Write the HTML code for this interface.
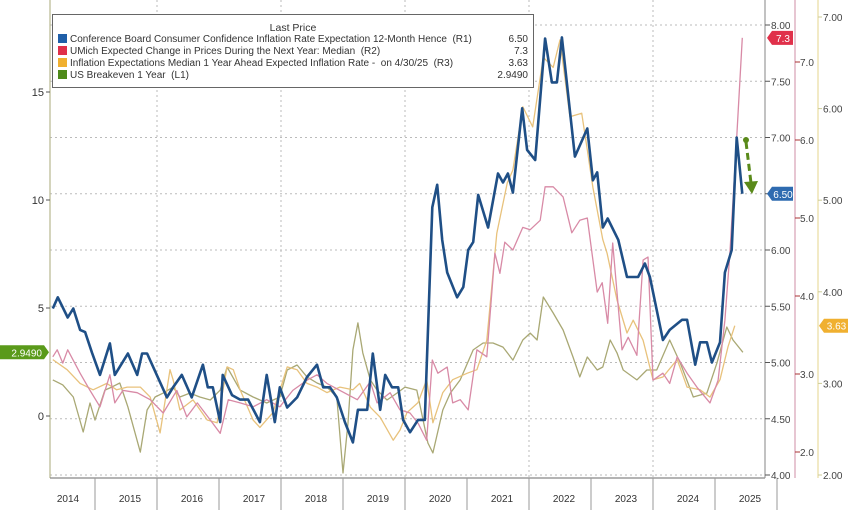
<!DOCTYPE html>
<html><head><meta charset="utf-8"><style>
body{margin:0;background:#fff;}
svg{display:block;font-family:"Liberation Sans",sans-serif;}
</style></head><body>
<svg id="chart" width="848" height="510" viewBox="0 0 848 510" xmlns="http://www.w3.org/2000/svg"></svg>
<script>
const yearLabels=["2014","2015","2016","2017","2018","2019","2020","2021","2022","2023","2024","2025"];
const leftTicks=[0,5,10,15];
const r1Ticks=[4.00,4.50,5.00,5.50,6.00,6.50,7.00,7.50,8.00];
const r2Ticks=[2.0,3.0,4.0,5.0,6.0,7.0];
const r3Ticks=[2.00,3.00,4.00,5.00,6.00,7.00];
const blueDates=[2014.32,2014.40,2014.56,2014.65,2014.76,2014.84,2014.95,2015.08,2015.24,2015.32,2015.53,2015.68,2015.76,2015.84,2016.16,2016.26,2016.40,2016.56,2016.74,2016.82,2016.90,2017.02,2017.06,2017.21,2017.34,2017.47,2017.66,2017.77,2017.90,2017.98,2018.10,2018.26,2018.42,2018.58,2018.68,2018.79,2018.90,2019.03,2019.16,2019.24,2019.39,2019.48,2019.60,2019.68,2019.79,2019.89,2019.97,2020.08,2020.21,2020.32,2020.44,2020.52,2020.60,2020.68,2020.84,2020.94,2021.02,2021.10,2021.18,2021.34,2021.50,2021.58,2021.66,2021.74,2021.89,2021.97,2022.10,2022.26,2022.37,2022.45,2022.53,2022.74,2022.94,2023.03,2023.10,2023.19,2023.27,2023.44,2023.58,2023.76,2023.87,2023.95,2024.16,2024.27,2024.47,2024.55,2024.68,2024.76,2024.87,2024.95,2025.08,2025.16,2025.27,2025.35,2025.44];
const blueVals=[5.48,5.58,5.40,5.48,5.29,5.27,5.09,4.89,5.17,4.89,5.08,4.89,5.08,5.08,4.69,4.78,4.89,4.69,4.98,4.78,4.78,4.47,4.89,4.71,4.67,4.67,4.47,4.89,4.47,4.78,4.60,4.69,4.87,4.98,4.78,4.78,4.69,4.47,4.29,4.58,4.58,5.08,4.58,4.89,4.78,4.78,4.49,4.38,4.49,4.49,6.38,6.58,6.09,5.80,5.58,5.67,6.00,6.07,6.49,6.20,6.68,6.60,6.68,6.51,7.26,6.89,6.80,7.88,7.49,7.49,7.89,6.83,7.08,6.62,6.69,6.20,6.28,6.09,5.76,5.76,5.88,5.76,5.20,5.29,5.38,5.38,4.98,5.18,5.18,5.00,5.18,5.80,6.00,7.00,6.50];
const redDates=[2014.32,2014.39,2014.48,2014.56,2014.76,2014.92,2015.08,2015.24,2015.32,2015.45,2015.68,2015.89,2016.10,2016.32,2016.48,2016.65,2016.86,2017.02,2017.15,2017.34,2017.55,2017.77,2017.98,2018.19,2018.42,2018.58,2018.74,2018.95,2019.23,2019.44,2019.55,2019.76,2019.92,2020.08,2020.21,2020.35,2020.44,2020.53,2020.68,2020.77,2020.89,2021.02,2021.16,2021.32,2021.45,2021.53,2021.61,2021.74,2021.90,2022.02,2022.18,2022.26,2022.39,2022.55,2022.69,2022.82,2022.94,2023.10,2023.18,2023.27,2023.35,2023.50,2023.60,2023.74,2023.84,2023.92,2024.00,2024.16,2024.27,2024.39,2024.55,2024.71,2024.92,2025.05,2025.16,2025.24,2025.35,2025.44];
const redVals=[3.22,3.31,3.14,3.31,3.01,2.79,2.58,2.99,2.63,2.79,2.76,2.67,2.50,2.79,2.45,2.63,2.41,2.24,2.67,2.63,2.58,2.67,2.58,2.79,2.92,2.99,2.88,2.79,2.67,2.90,2.63,2.76,2.54,2.50,2.37,2.15,3.18,3.01,3.09,2.63,2.67,2.54,3.31,3.22,4.55,4.29,4.69,4.59,4.88,4.85,4.97,5.40,5.40,5.27,4.81,4.97,5.00,4.05,4.17,3.65,4.68,3.31,3.47,3.24,4.46,4.50,2.92,3.01,2.88,3.22,3.01,2.83,2.63,2.92,3.69,4.55,6.03,7.31];
const yelDates=[2014.32,2014.55,2014.76,2014.97,2015.19,2015.35,2015.52,2015.73,2015.89,2016.05,2016.21,2016.26,2016.37,2016.58,2016.81,2016.97,2017.13,2017.23,2017.34,2017.55,2017.66,2017.87,2018.10,2018.26,2018.42,2018.58,2018.74,2018.95,2019.16,2019.27,2019.44,2019.60,2019.81,2019.92,2020.03,2020.21,2020.35,2020.45,2020.61,2020.77,2021.00,2021.16,2021.32,2021.48,2021.65,2021.74,2021.90,2022.06,2022.23,2022.39,2022.50,2022.66,2022.85,2022.94,2023.03,2023.19,2023.26,2023.42,2023.58,2023.68,2023.84,2024.00,2024.16,2024.39,2024.55,2024.76,2024.92,2025.08,2025.21,2025.32];
const yelVals=[3.26,3.15,3.00,2.93,3.00,2.93,2.96,2.96,2.85,2.46,3.15,3.04,2.71,2.82,2.60,2.57,3.18,3.15,2.93,2.60,2.52,2.68,3.18,3.15,3.00,2.96,2.90,2.96,2.93,3.00,2.74,2.63,2.38,2.49,2.68,2.79,3.04,2.57,2.90,3.04,3.11,3.15,3.47,4.64,5.19,5.33,6.02,5.80,6.56,6.45,6.75,5.91,5.95,5.55,5.14,4.57,4.42,3.91,3.55,3.69,3.47,3.04,3.07,3.26,2.96,2.93,2.85,3.04,3.40,3.63];
const grnDates=[2014.32,2014.48,2014.65,2014.81,2014.92,2015.00,2015.16,2015.27,2015.40,2015.53,2015.73,2015.84,2015.97,2016.10,2016.26,2016.37,2016.53,2016.69,2016.86,2017.02,2017.13,2017.34,2017.55,2017.77,2017.98,2018.10,2018.26,2018.42,2018.58,2018.74,2018.90,2019.00,2019.08,2019.16,2019.24,2019.32,2019.44,2019.55,2019.71,2019.87,2020.00,2020.19,2020.37,2020.45,2020.61,2020.73,2020.89,2021.10,2021.26,2021.42,2021.58,2021.74,2021.90,2022.02,2022.13,2022.23,2022.39,2022.55,2022.71,2022.82,2022.94,2023.10,2023.19,2023.31,2023.42,2023.52,2023.74,2023.90,2024.06,2024.27,2024.44,2024.65,2024.87,2025.03,2025.19,2025.29,2025.45];
const grnVals=[1.67,1.44,0.88,-0.74,0.60,-0.19,1.20,1.34,1.53,0.42,-1.67,0.28,0.88,1.06,1.34,0.88,1.06,0.88,0.74,1.20,2.27,1.20,0.88,0.60,0.88,2.13,2.36,1.81,1.53,1.34,0.88,-2.64,-0.32,3.06,4.31,2.92,1.67,1.20,0.74,1.06,1.34,1.20,-1.25,-1.71,0.28,1.06,1.67,3.06,3.38,3.38,3.19,2.59,3.52,3.84,3.52,5.51,4.77,3.98,2.73,1.81,2.73,2.13,2.27,3.52,2.92,2.13,1.67,2.13,2.13,3.52,2.45,0.88,1.06,2.45,4.12,3.52,2.95];

const xOf=yr=>33+(yr-2014)*62;
const yL=v=>416-v*21.6;
const yR1=v=>475-(v-4)*112.5;
const yR2=v=>452-(v-2)*78;
const yR3=v=>475-(v-2)*91.6;
const svg=document.getElementById('chart');
const NS="http://www.w3.org/2000/svg";
function mk(tag,attrs,parent){const e=document.createElementNS(NS,tag);for(const k in attrs)e.setAttribute(k,attrs[k]);(parent||svg).appendChild(e);return e;}

// gridlines
const grid=mk('g',{});


r1Ticks.forEach(t=>{mk('line',{x1:50,x2:765,y1:yR1(t),y2:yR1(t),stroke:'#bbb','stroke-dasharray':'2,3','stroke-width':1},grid);});
for(let y=2016;y<=2024;y+=2){mk('line',{x1:xOf(y),x2:xOf(y),y1:0,y2:478,stroke:'#bbb','stroke-dasharray':'2,3','stroke-width':1},grid);}

// axes lines
const ax=mk('g',{});


mk('line',{x1:50,x2:50,y1:0,y2:478,stroke:'#b8b890','stroke-width':1.2},ax);
mk('line',{x1:50,x2:765,y1:478,y2:478,stroke:'#888','stroke-width':1.2},ax);
mk('line',{x1:765,x2:765,y1:0,y2:478,stroke:'#999','stroke-width':1.2},ax);
mk('line',{x1:795,x2:795,y1:0,y2:478,stroke:'#d7a0b4','stroke-width':1.2},ax);
mk('line',{x1:818,x2:818,y1:0,y2:478,stroke:'#e8dca0','stroke-width':1.2},ax);

// left ticks
leftTicks.forEach(t=>{const tx=mk('text',{x:44,y:yL(t)+4,'font-size':11,'text-anchor':'end',fill:'#333'});tx.textContent=String(t);


mk('line',{x1:46,x2:50,y1:yL(t),y2:yL(t),stroke:'#555'});});
r1Ticks.forEach(t=>{mk('line',{x1:765,x2:770,y1:yR1(t),y2:yR1(t),stroke:'#555'});if(t===6.5)return;const tx=mk('text',{x:771,y:yR1(t)+4,'font-size':10,fill:'#444'});tx.textContent=t.toFixed(2);

});
r2Ticks.forEach(t=>{mk('line',{x1:795,x2:800,y1:yR2(t),y2:yR2(t),stroke:'#a33'});const tx=mk('text',{x:800,y:yR2(t)+4,'font-size':10,fill:'#444'});tx.textContent=t.toFixed(1);

});
r3Ticks.forEach(t=>{mk('line',{x1:818,x2:822,y1:yR3(t),y2:yR3(t),stroke:'#cc9'});const tx=mk('text',{x:823,y:yR3(t)+4,'font-size':10,fill:'#444'});tx.textContent=t.toFixed(2);

});

// x axis year labels
yearLabels.forEach((l,i)=>{const yr=2014+i;mk('line',{x1:xOf(yr+1),x2:xOf(yr+1),y1:478,y2:510,stroke:'#999'});
const tx=mk('text',{x:xOf(yr+0.5)+4,y:502,'font-size':10,'text-anchor':'middle',fill:'#333'});tx.textContent=l;

});

function line(dates,vals,yf,color,w,name){const pts=dates.map((d,i)=>xOf(d).toFixed(1)+','+yf(vals[i]).toFixed(1)).join(' ');
const p=mk('polyline',{points:pts,fill:'none',stroke:color,'stroke-width':w,'stroke-linejoin':'round'});

}
line(grnDates,grnVals,yL,'#a9a874',1.3,'us-breakeven-line');
line(yelDates,yelVals,yR3,'#e8c27c',1.3,'nyfed-expectations-line');
line(redDates,redVals,yR2,'#d88aa6',1.3,'umich-expectations-line');
line(blueDates,blueVals,yR1,'#1f4f86',2.6,'conference-board-line');

// tags
function tag(x,y,w,txt,bg,fg,name,left){const g=mk('g',{});


const pts=left?`${x},${y-7} ${x+w},${y-7} ${x+w+5},${y} ${x+w},${y+7} ${x},${y+7}`:`${x},${y} ${x+5},${y-7} ${x+w},${y-7} ${x+w},${y+7} ${x+5},${y+7}`;
mk('polygon',{points:pts,fill:bg},g);const t=mk('text',{x:left?x+w-2:x+w/2+3,y:y+4,'font-size':10,'text-anchor':left?'end':'middle',fill:fg},g);t.textContent=txt;}
tag(767,yR2(7.31),26,'7.3','#e0304a','#fff','umich-last-tag');
tag(767,yR1(6.5),26,'6.50','#2f6bb0','#fff','conference-board-last-tag');
tag(819,yR3(3.63),29,'3.63','#f0b030','#fff','nyfed-last-tag');
tag(0,yL(2.949),44,'2.9490','#5a9a1a','#fff','breakeven-last-tag',true);

// arrow
const ar=mk('g',{});


mk('circle',{cx:746,cy:140,r:3,fill:'#5a8a1a'},ar);
mk('line',{x1:746,y1:142,x2:751,y2:183,stroke:'#5a8a1a','stroke-width':3,'stroke-dasharray':'7,4'},ar);
mk('polygon',{points:'744,182 758,181 752,194',fill:'#5a8a1a'},ar);
</script>
<div style="position:absolute;left:52px;top:14px;width:482px;height:74px;border:1px solid #666;background:#fff;font-family:'Liberation Sans',sans-serif;font-size:10px;color:#333;box-sizing:border-box;">
<div style="position:absolute;left:0;right:0;top:7px;text-align:center;font-size:10.5px;">Last Price</div>
<div style="position:absolute;left:5px;top:19px;width:470px;"><span style="display:inline-block;width:9px;height:9px;background:#1f5fa8;vertical-align:-1px;margin-right:3px"></span>Conference Board Consumer Confidence Inflation Rate Expectation 12-Month Hence &nbsp;(R1)<span style="position:absolute;right:0">6.50</span></div>
<div style="position:absolute;left:5px;top:31px;width:470px;"><span style="display:inline-block;width:9px;height:9px;background:#e0304a;vertical-align:-1px;margin-right:3px"></span>UMich Expected Change in Prices During the Next Year: Median &nbsp;(R2)<span style="position:absolute;right:0">7.3</span></div>
<div style="position:absolute;left:5px;top:43px;width:470px;"><span style="display:inline-block;width:9px;height:9px;background:#f0b030;vertical-align:-1px;margin-right:3px"></span>Inflation Expectations Median 1 Year Ahead Expected Inflation Rate - &nbsp;on 4/30/25 &nbsp;(R3)<span style="position:absolute;right:0">3.63</span></div>
<div style="position:absolute;left:5px;top:55px;width:470px;"><span style="display:inline-block;width:9px;height:9px;background:#4e8a1a;vertical-align:-1px;margin-right:3px"></span>US Breakeven 1 Year &nbsp;(L1)<span style="position:absolute;right:0">2.9490</span></div>
</div>
</body></html>
